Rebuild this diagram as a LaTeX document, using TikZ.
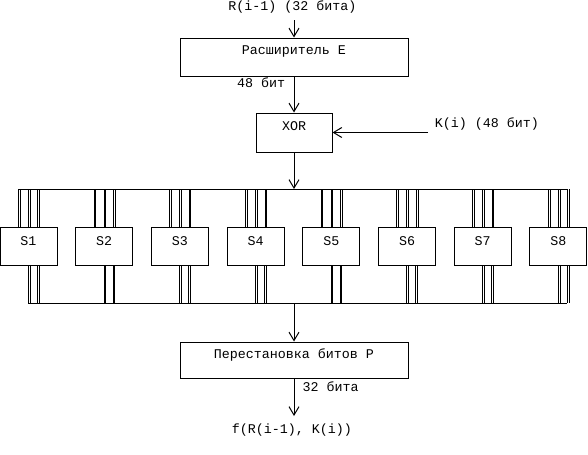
\documentclass[tikz,border=0pt]{standalone}
\usepackage{fontspec}
\newfontfamily\monof{Liberation Mono}
\usetikzlibrary{arrows.meta,calc}
\begin{document}
\begin{tikzpicture}[x=0.75pt,y=-0.75pt,
  line width=0.75pt,
  every node/.style={font=\monof\fontsize{10}{12}\selectfont, inner sep=0pt},
  box/.style={draw, rectangle, text height=6pt},
  sbox/.style={box, minimum width=42.75pt, minimum height=28.5pt, text depth=7.5pt},
  lbl/.style={anchor=base},
  arr/.style={-{Straight Barb[length=6.3pt,width=7.5pt]}}]
\useasboundingbox (0,0) rectangle (588,454);
% main boxes
\node[box, minimum width=171pt, minimum height=28.5pt, text depth=9.75pt] (E) at (294,57) {Расширитель E};
\node[box, minimum width=57pt, minimum height=29.25pt, text depth=8.7pt] (X) at (294,132.5) {XOR};
\node[box, minimum width=171pt, minimum height=27pt, text depth=7.95pt] (P) at (294,360) {Перестановка битов P};
% S boxes
\foreach \k in {1,...,8}{
  \node[sbox] (S\k) at ({28.5+75.7*(\k-1)},246) {S\k};
}
% labels
\node[lbl] (Rin) at (292.5,10.5) {R(i-1) (32 бита)};
\node[lbl] (b48) at (261,87) {48 бит};
\node[lbl] (Kin) at (487,127) {K(i) (48 бит)};
\node[lbl] (b32) at (330.5,391.5) {32 бита};
\node[lbl] (fout) at (292,433) {f(R(i-1), K(i))};
% coordinates
\coordinate (rstart) at (294,20);
\coordinate (kstart) at (428,132.5);
\coordinate (busT) at (294,189);
\coordinate (busB) at (294,303);
\coordinate (fend) at (294,416);
% arrows
\draw[arr] (rstart) -- (E.north);
\draw[arr] (E.south) -- (X.north);
\draw[arr] (kstart) -- (X.east);
\draw[arr] (X.south) -- (busT);
\draw[arr] (busB) -- (P.north);
\draw[arr] (P.south) -- (fend);
% buses
\path ($(S1.north)+(-10.2,0)$) coordinate (tl);
\path ($(S8.north)+(9.4,0)$) coordinate (tr);
\draw (tl |- busT) -- (tr |- busT);
\path ($(S1.south)+(-0.2,0)$) coordinate (bl);
\path ($(S8.south)+(8.8,0)$) coordinate (br);
\draw (bl |- busB) -- (br |- busB);
\foreach \k in {1,...,8}{
  \foreach \dx in {-10.2,-8.4,-0.2,1.6,9.4,11.0}{
    \draw ($(S\k.north)+(\dx,0)$) coordinate (tmp) -- (tmp |- busT);
  }
  \foreach \dx in {-0.2,1.6,8.8,10.6}{
    \draw ($(S\k.south)+(\dx,0)$) coordinate (tmp) -- (tmp |- busB);
  }
}
\end{tikzpicture}
\end{document}
